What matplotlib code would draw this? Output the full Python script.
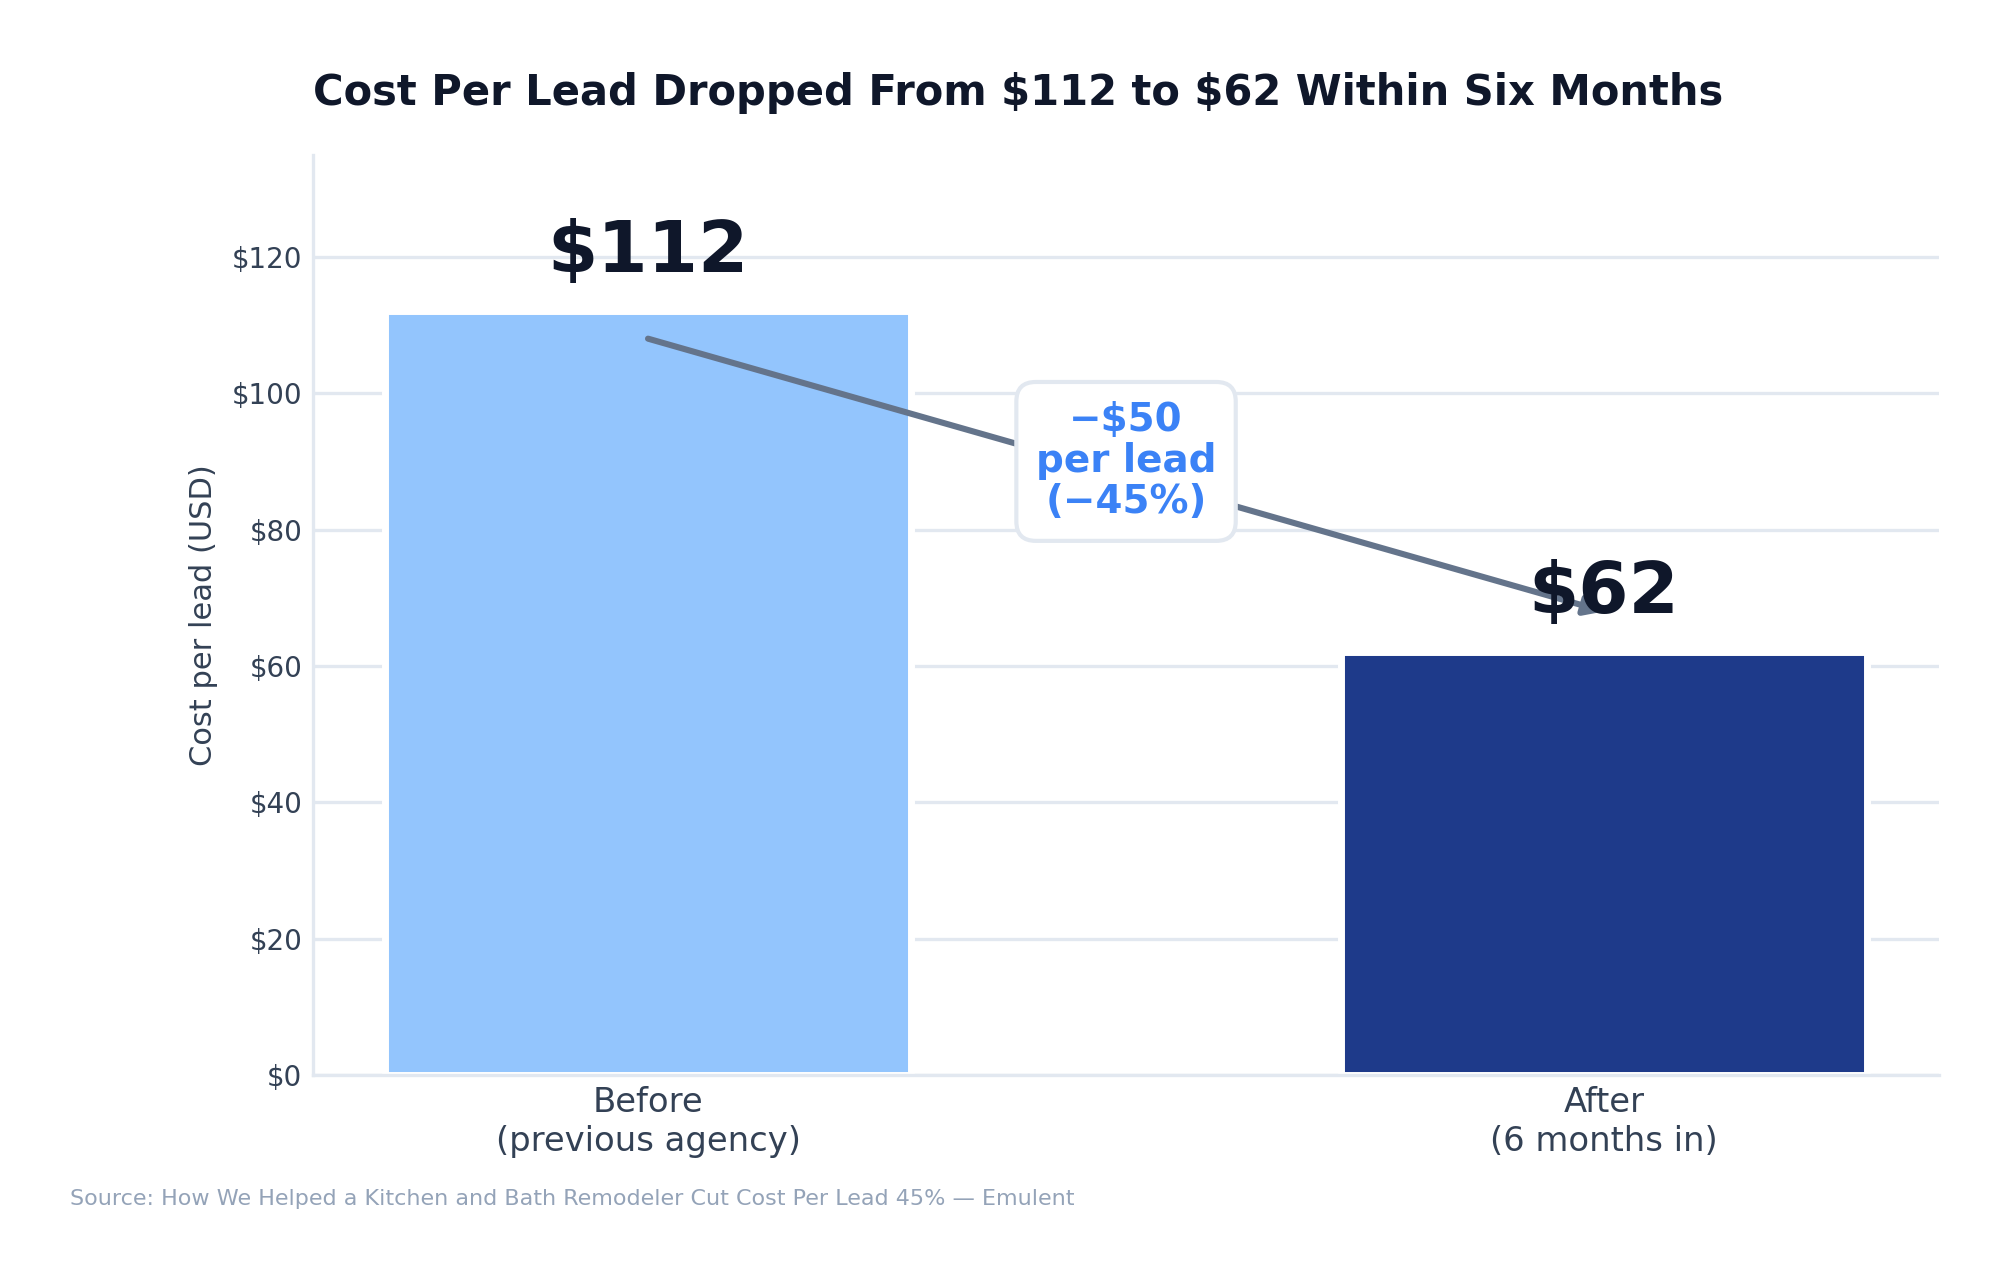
import numpy as np
import matplotlib
matplotlib.use("Agg")
import matplotlib.pyplot as plt

# data
categories = ["Before\n(previous agency)", "After\n(6 months in)"]
cost_per_lead = [112, 62]
bar_colors = ["#93c5fd", "#1e3a8a"]
value_labels = ["\\$112", "\\$62"]
y_ticks = [0, 20, 40, 60, 80, 100, 120]
change_text = "\u2212\\$50\nper lead\n(\u221245%)"
source_text = "Source: How We Helped a Kitchen and Bath Remodeler Cut Cost Per Lead 45% \u2014 Emulent"
title_text = "Cost Per Lead Dropped From \\$112 to \\$62 Within Six Months"

plt.rcParams["font.family"] = ["DejaVu Sans"]

fig = plt.figure(figsize=(10.045, 6.385), dpi=200)
ax = fig.add_axes([0.156, 0.158, 0.809, 0.721])

x = np.arange(len(categories))
ax.bar(x, cost_per_lead, width=0.55, color=bar_colors,
       edgecolor="white", linewidth=2.5, zorder=2)

ax.set_xlim(-0.35, 1.35)
ax.set_ylim(0, 135)
ax.set_yticks(y_ticks)
ax.set_yticklabels([f"${v}" for v in y_ticks])
ax.set_xticks(x)
ax.set_xticklabels(categories, fontsize=12.2, color="#334155")
ax.tick_params(axis="y", labelsize=10, colors="#334155", length=0, pad=4)
ax.tick_params(axis="x", length=0, pad=4)

ax.grid(axis="y", color="#e2e8f0", linewidth=1.2, zorder=0)
ax.set_axisbelow(True)
for side in ["top", "right"]:
    ax.spines[side].set_visible(False)
for side in ["left", "bottom"]:
    ax.spines[side].set_color("#e2e8f0")
    ax.spines[side].set_linewidth(1.2)

ax.set_ylabel("Cost per lead (USD)", fontsize=11, color="#334155", labelpad=5)

# value labels over bars
for xi, v, lab in zip(x, cost_per_lead, value_labels):
    ax.text(xi, v + 8.7, lab, ha="center", va="center", fontsize=26,
            fontweight="bold", color="#0f172a", zorder=4)

# arrow from before to after
ax.annotate("", xy=(x[1], cost_per_lead[1] + 6), xytext=(x[0], cost_per_lead[0] - 4),
            arrowprops=dict(arrowstyle="-|>", color="#64748b", lw=2.2,
                            mutation_scale=14, shrinkA=0, shrinkB=0),
            zorder=3)

ax.text(0.5, 90, change_text, ha="center", va="center", fontsize=14,
        fontweight="bold", color="#3b82f6", linespacing=1.1, zorder=5,
        bbox=dict(boxstyle="round,pad=0.5", facecolor="white",
                  edgecolor="#e2e8f0", linewidth=1.5))

ax.set_title(title_text, loc="left", fontsize=15, fontweight="bold",
             color="#0f172a", pad=18)

fig.text(0.035, 0.061, source_text, fontsize=8, color="#94a3b8",
         ha="left", va="center")

fig.savefig("out.png", dpi=200, facecolor="white")
